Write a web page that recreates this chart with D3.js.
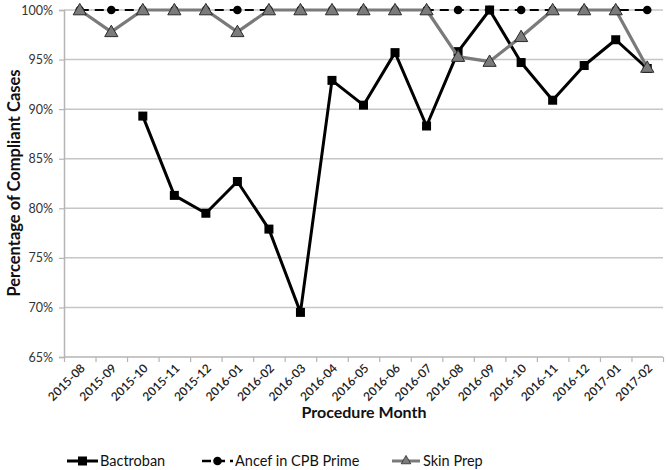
<!DOCTYPE html>
<html>
<head>
<meta charset="utf-8">
<script src="https://cdn.jsdelivr.net/npm/d3@7"></script>
<style>
  html, body { margin: 0; padding: 0; background: #fff; }
  svg { display: block; font-family: Lato, "Open Sans", sans-serif; }
</style>
</head>
<body>
<svg id="chart" width="666" height="470"></svg>
<script>
const months = ["2015-08","2015-09","2015-10","2015-11","2015-12","2016-01","2016-02","2016-03","2016-04","2016-05","2016-06","2016-07","2016-08","2016-09","2016-10","2016-11","2016-12","2017-01","2017-02"];
const bactroban = [null,null,89.3,81.3,79.5,82.7,77.9,69.5,92.9,90.4,95.7,88.3,95.8,100,94.7,90.9,94.4,97.0,94.1];
const ancef = [100,100,100,100,100,100,100,100,100,100,100,100,100,100,100,100,100,100,100];
const skinPrep = [100,97.8,100,100,100,97.8,100,100,100,100,100,100,95.3,94.8,97.3,100,100,100,94.2];
const yTicks = [65,70,75,80,85,90,95,100];
const seriesNames = ["Bactroban","Ancef in CPB Prime","Skin Prep"];

(function () {
const svg = d3.select("#chart");
const pL = 64, pR = 663, pT = 10, pB = 357;

const x = d3.scaleBand().domain(months).range([pL, pR]).padding(0);
const y = d3.scaleLinear().domain([65, 100]).range([pB, pT]);
const cx = d => x(d) + x.bandwidth() / 2;

// gridlines
svg.append("g").selectAll("line").data(yTicks.filter(t => t > 65)).join("line")
  .attr("x1", pL).attr("x2", pR)
  .attr("y1", d => y(d)).attr("y2", d => y(d))
  .attr("stroke", "#c6c6c6").attr("stroke-width", 1.5);

// y axis
const yAxis = d3.axisLeft(y).tickValues(yTicks).tickFormat(d => d + "%").tickSize(5).tickPadding(6);
const gy = svg.append("g").attr("transform", `translate(${pL},0)`).call(yAxis);
gy.select(".domain").attr("stroke", "#b5b5b5").attr("stroke-width", 1.5);
gy.selectAll(".tick line").attr("stroke", "#b5b5b5").attr("stroke-width", 1.2);
gy.selectAll(".tick text").attr("font-size", 12.5).attr("fill", "#333").attr("font-family", "Lato, sans-serif");

// x axis
const xb = d3.scaleLinear().domain([0, months.length]).range([pL, pR]);
const gx = svg.append("g").attr("transform", `translate(0,${pB})`)
  .call(d3.axisBottom(xb).tickValues(d3.range(0, months.length + 1)).tickSize(5).tickFormat(""));
gx.select(".domain").attr("stroke", "#b5b5b5").attr("stroke-width", 1.5).attr("d", `M${pL},0H${pR}`);
gx.selectAll(".tick line").attr("stroke", "#b5b5b5").attr("stroke-width", 1.2);

svg.append("g").selectAll("text").data(months).join("text")
  .attr("transform", d => `translate(${cx(d) + 3},${pB + 9}) rotate(-45)`)
  .attr("text-anchor", "end").attr("dy", "0.35em")
  .attr("font-size", 12).attr("font-weight", 600).attr("fill", "#222")
  .text(d => d);

// axis titles
svg.append("text").attr("x", 364).attr("y", 418).attr("text-anchor", "middle")
  .attr("font-size", 16).attr("font-weight", 700).attr("fill", "#111").text("Procedure Month");
svg.append("text").attr("transform", "translate(20,183) rotate(-90)").attr("text-anchor", "middle")
  .attr("font-size", 16.5).attr("font-weight", 700).attr("fill", "#111").text("Percentage of Compliant Cases");

const line = d3.line().defined(d => d.v != null).x(d => cx(d.m)).y(d => y(d.v));
const toPts = arr => months.map((m, i) => ({ m, v: arr[i] }));
const tri = d3.symbol().type(d3.symbolTriangle).size(75);

// Bactroban
const bPts = toPts(bactroban);
svg.append("path").datum(bPts).attr("d", line).attr("fill", "none")
  .attr("stroke", "#000").attr("stroke-width", 3).attr("stroke-linejoin", "round");
svg.append("g").selectAll("rect").data(bPts.filter(d => d.v != null)).join("rect")
  .attr("x", d => cx(d.m) - 4.5).attr("y", d => y(d.v) - 4.5)
  .attr("width", 9).attr("height", 9).attr("fill", "#000");

// Ancef
const aPts = toPts(ancef);
svg.append("path").datum(aPts).attr("d", line).attr("fill", "none")
  .attr("stroke", "#000").attr("stroke-width", 2).attr("stroke-dasharray", "9,6");
svg.append("g").selectAll("circle").data(aPts).join("circle")
  .attr("cx", d => cx(d.m)).attr("cy", d => y(d.v)).attr("r", 4.3).attr("fill", "#000");

// Skin Prep
const sPts = toPts(skinPrep);
svg.append("path").datum(sPts).attr("d", line).attr("fill", "none")
  .attr("stroke", "#7a7a7a").attr("stroke-width", 3.2).attr("stroke-linejoin", "round");
svg.append("g").selectAll("path").data(sPts).join("path")
  .attr("transform", d => `translate(${cx(d.m)},${y(d.v) + 1})`)
  .attr("d", tri).attr("fill", "#7b7b7b").attr("stroke", "#2a2a2a").attr("stroke-width", 1);

// legend
const legY = 461;
const leg = [
  { name: seriesNames[0], x0: 67, x1: 98, tx: 100 },
  { name: seriesNames[1], x0: 202, x1: 233, tx: 235 },
  { name: seriesNames[2], x0: 392, x1: 420, tx: 423 }
];
const lg = svg.append("g");
lg.append("line").attr("x1", leg[0].x0).attr("x2", leg[0].x1).attr("y1", legY).attr("y2", legY)
  .attr("stroke", "#000").attr("stroke-width", 3);
lg.append("rect").attr("x", (leg[0].x0 + leg[0].x1) / 2 - 4.5).attr("y", legY - 4.5).attr("width", 9).attr("height", 9).attr("fill", "#000");
lg.append("line").attr("x1", leg[1].x0).attr("x2", leg[1].x1).attr("y1", legY).attr("y2", legY)
  .attr("stroke", "#000").attr("stroke-width", 2.5).attr("stroke-dasharray", "9,5");
lg.append("circle").attr("cx", (leg[1].x0 + leg[1].x1) / 2).attr("cy", legY).attr("r", 4.3).attr("fill", "#000");
lg.append("line").attr("x1", leg[2].x0).attr("x2", leg[2].x1).attr("y1", legY).attr("y2", legY)
  .attr("stroke", "#7a7a7a").attr("stroke-width", 3);
lg.append("path").attr("transform", `translate(${(leg[2].x0 + leg[2].x1) / 2},${legY})`)
  .attr("d", d3.symbol().type(d3.symbolTriangle).size(40)).attr("fill", "#7b7b7b").attr("stroke", "#2a2a2a").attr("stroke-width", 0.8);
lg.selectAll("text").data(leg).join("text")
  .attr("x", d => d.tx).attr("y", legY).attr("dy", "0.35em")
  .attr("font-size", 14.5).attr("fill", "#111").text(d => d.name);
})();
</script>
</body>
</html>
